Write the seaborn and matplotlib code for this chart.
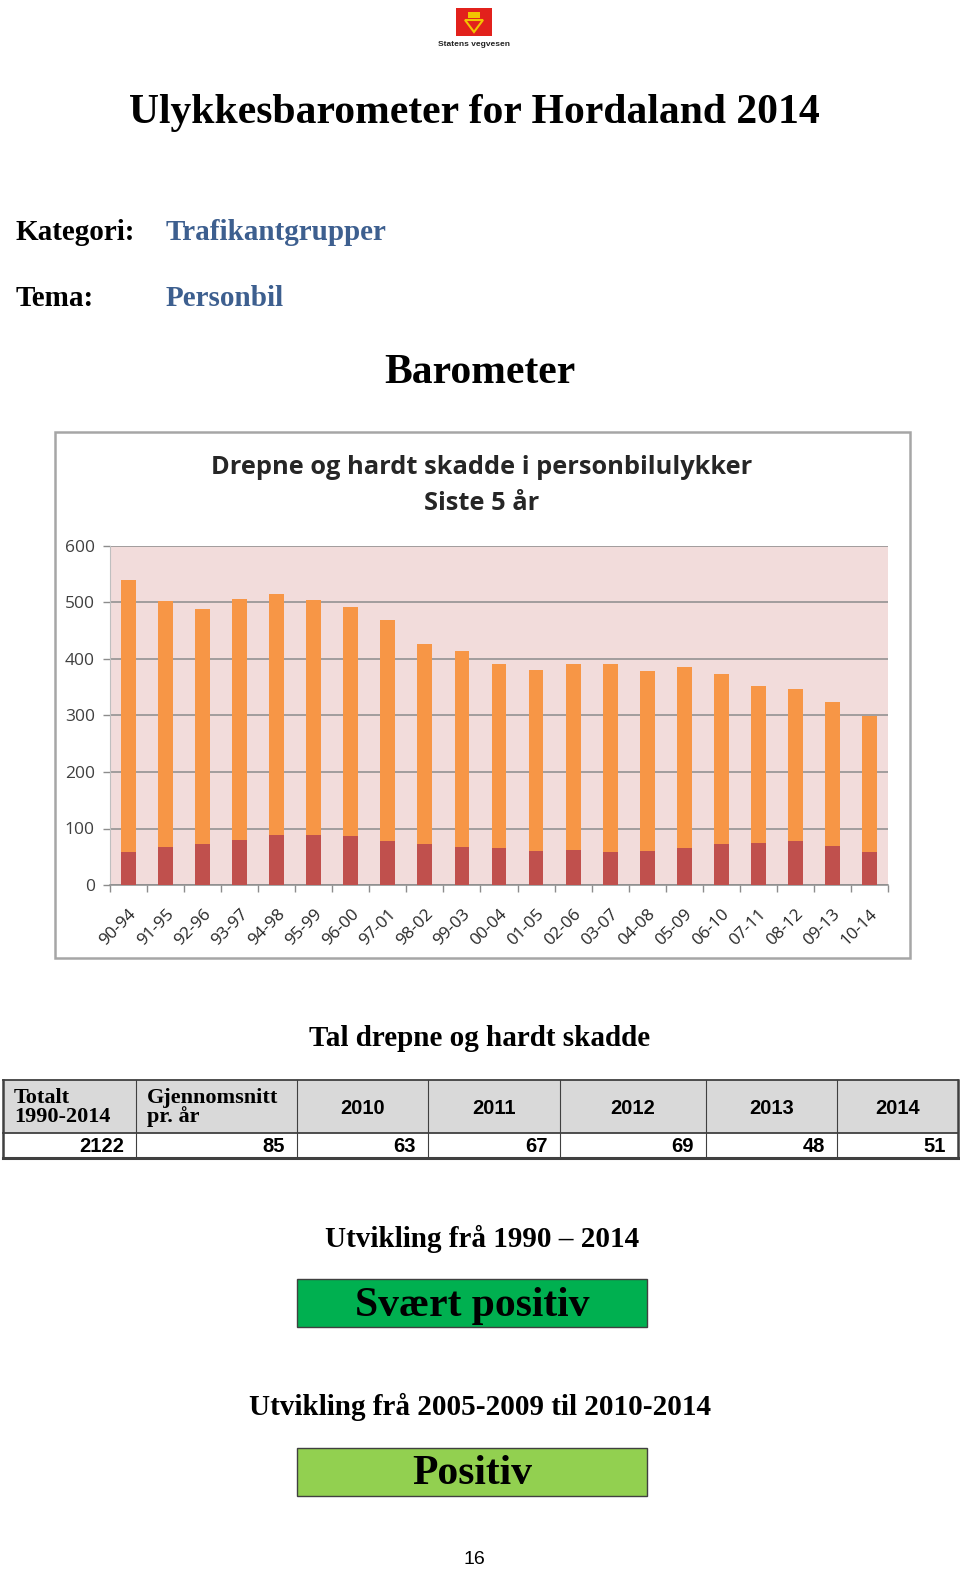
import matplotlib
matplotlib.use("Agg")
import matplotlib.pyplot as plt
from matplotlib.patches import Rectangle, Polygon
import seaborn as sns
import pandas as pd

# ---------------- data ----------------
periods = ['90-94', '91-95', '92-96', '93-97', '94-98', '95-99', '96-00', '97-01',
           '98-02', '99-03', '00-04', '01-05', '02-06', '03-07', '04-08', '05-09',
           '06-10', '07-11', '08-12', '09-13', '10-14']
total_values = [539, 502, 488, 507, 515, 505, 492, 469, 427, 414, 391, 381, 391,
                391, 379, 386, 374, 352, 347, 324, 299]
red_values = [59, 67, 73, 80, 88, 88, 86, 78, 72, 67, 66, 61, 62, 59, 61, 65,
              73, 75, 78, 69, 59]
y_ticks = [0, 100, 200, 300, 400, 500, 600]

table_headers = ['Totalt\n1990-2014', 'Gjennomsnitt\npr. år', '2010', '2011', '2012', '2013', '2014']
table_values = ['2122', '85', '63', '67', '69', '48', '51']

main_title = 'Ulykkesbarometer for Hordaland 2014'
chart_title = 'Drepne og hardt skadde i personbilulykker\nSiste 5 år'
verdict1_label = 'Utvikling frå 1990 – 2014'
verdict1 = 'Svært positiv'
verdict2_label = 'Utvikling frå 2005-2009 til 2010-2014'
verdict2 = 'Positiv'

# ---------------- figure ----------------
W, H = 960, 1570
fig = plt.figure(figsize=(W / 100, H / 100), dpi=100)
fig.patch.set_facecolor('white')

def fx(x):
    return x / W

def fy(y):
    return 1 - y / H

SERIF = 'Liberation Serif'
SANS = 'Liberation Sans'
CAL = 'Open Sans'

def ftext(x, y, s, **kw):
    fig.text(fx(x), fy(y), s, **kw)

# logo
fig.patches.append(Rectangle((fx(456), fy(36)), 36 / W, 28 / H, transform=fig.transFigure,
                             facecolor='#E2211C', edgecolor='none'))
fig.patches.append(Polygon([(fx(465), fy(20)), (fx(483), fy(20)), (fx(474), fy(32))],
                           closed=True, transform=fig.transFigure,
                           facecolor='none', edgecolor='#F2C500', linewidth=1.5))
fig.patches.append(Rectangle((fx(468), fy(18)), 12 / W, 6 / H, transform=fig.transFigure,
                             facecolor='#F2C500', edgecolor='none'))
ftext(474, 45, 'Statens vegvesen', fontsize=6, fontweight='bold', family=SANS,
      ha='center', va='center', color='#222222')

# headings
ftext(474, 113, main_title, fontsize=30, fontweight='bold', family=SERIF,
      ha='center', va='center', color='black')
ftext(16, 232, 'Kategori:', fontsize=21, fontweight='bold', family=SERIF, va='center')
ftext(166, 232, 'Trafikantgrupper', fontsize=21, fontweight='bold', family=SERIF,
      va='center', color='#3D5F8F')
ftext(16, 298, 'Tema:', fontsize=21, fontweight='bold', family=SERIF, va='center')
ftext(166, 298, 'Personbil', fontsize=21, fontweight='bold', family=SERIF,
      va='center', color='#3D5F8F')
ftext(480, 373, 'Barometer', fontsize=30, fontweight='bold', family=SERIF,
      ha='center', va='center')

# chart outer frame
fig.patches.append(Rectangle((fx(55), fy(958)), (910 - 55) / W, (958 - 432) / H,
                             transform=fig.transFigure, facecolor='white',
                             edgecolor='#A6A6A6', linewidth=1.8, zorder=0))
ftext(482, 467, chart_title.split('\n')[0], fontsize=18.3, fontweight='bold', family=CAL,
      ha='center', va='center', color='#262626')
ftext(482, 504, chart_title.split('\n')[1], fontsize=18.3, fontweight='bold', family=CAL,
      ha='center', va='center', color='#262626')

# chart axes
ax = fig.add_axes([fx(110), fy(885), (888 - 110) / W, (885 - 546) / H])
ax.set_zorder(5)
ax.set_facecolor('#F2DCDB')
df = pd.DataFrame({'periode': periods, 'total': total_values, 'red': red_values})
sns.barplot(data=df, x='periode', y='total', color='#F79646', width=0.4,
            saturation=1, ax=ax, zorder=3)
sns.barplot(data=df, x='periode', y='red', color='#C0504D', width=0.4,
            saturation=1, ax=ax, zorder=4)
ax.set_xlim(-0.5, len(periods) - 0.5)
ax.set_ylim(0, 600)
ax.set_yticks(y_ticks)
ax.set_yticklabels([str(v) for v in y_ticks], fontsize=12.5, family=CAL, color='#404040')
ax.yaxis.grid(True, color='#8C8C8C', linewidth=1.1, zorder=1)
ax.set_axisbelow(True)
ax.set_xlabel('')
ax.set_ylabel('')
ax.set_xticks(range(len(periods)))
ax.set_xticklabels(periods, rotation=45, ha='right', rotation_mode='anchor',
                   fontsize=12.3, family=CAL, color='#262626')
ax.tick_params(axis='x', length=0, pad=15)
ax.set_xticks([i - 0.5 for i in range(len(periods) + 1)], minor=True)
ax.tick_params(axis='x', which='minor', length=5, color='#8C8C8C', width=1)
ax.tick_params(axis='y', length=5, color='#8C8C8C', width=1, pad=6)
for s in ['top', 'right']:
    ax.spines[s].set_visible(False)
ax.spines['left'].set_color('#BFBFBF')
ax.spines['bottom'].set_color('#8C8C8C')
ax.spines['bottom'].set_linewidth(1.1)

# table title
ftext(480, 1039, 'Tal drepne og hardt skadde', fontsize=21, fontweight='bold',
      family=SERIF, ha='center', va='center')

# table
col_edges = [3, 136, 297, 428, 560, 706, 837, 958]
t_top, t_mid, t_bot = 1080, 1133, 1158
fig.patches.append(Rectangle((fx(3), fy(t_mid)), (958 - 3) / W, (t_mid - t_top) / H,
                             transform=fig.transFigure, facecolor='#D9D9D9',
                             edgecolor='none'))
for i, (h, v) in enumerate(zip(table_headers, table_values)):
    x0, x1 = col_edges[i], col_edges[i + 1]
    if i < 2:
        ftext(x0 + 11, (t_top + t_mid) / 2 + 1, h, fontsize=16, fontweight='bold',
              family=SERIF, va='center', ha='left', linespacing=0.92)
    else:
        ftext((x0 + x1) / 2, (t_top + t_mid) / 2 + 2, h, fontsize=14.5, fontweight='bold',
              family=SANS, va='center', ha='center')
    ftext(x1 - 12, (t_mid + t_bot) / 2 + 1, v, fontsize=14.5, fontweight='bold',
          family=SANS, va='center', ha='right')
# table lines
line_kw = dict(transform=fig.transFigure, color='#404040')
for y, lw in [(t_top, 1.3), (t_mid, 1.3), (t_bot, 2.2)]:
    fig.add_artist(plt.Line2D([fx(3), fx(958)], [fy(y), fy(y)], linewidth=lw, **line_kw))
for x in col_edges:
    lw = 1.8 if x in (3, 958) else 0.8
    fig.add_artist(plt.Line2D([fx(x), fx(x)], [fy(t_top), fy(t_bot)], linewidth=lw, **line_kw))

# verdicts
ftext(482, 1239, verdict1_label, fontsize=21, fontweight='bold', family=SERIF,
      ha='center', va='center')
fig.patches.append(Rectangle((fx(297), fy(1327)), (647 - 297) / W, (1327 - 1279) / H,
                             transform=fig.transFigure, facecolor='#00B050',
                             edgecolor='#404040', linewidth=1))
ftext(472, 1306, verdict1, fontsize=30, fontweight='bold', family=SERIF,
      ha='center', va='center')

ftext(480, 1407, verdict2_label, fontsize=21, fontweight='bold', family=SERIF,
      ha='center', va='center')
fig.patches.append(Rectangle((fx(297), fy(1496)), (647 - 297) / W, (1496 - 1448) / H,
                             transform=fig.transFigure, facecolor='#92D050',
                             edgecolor='#404040', linewidth=1))
ftext(472, 1474, verdict2, fontsize=30, fontweight='bold', family=SERIF,
      ha='center', va='center')

ftext(474, 1559, '16', fontsize=14, family=SANS, ha='center', va='center')

fig.savefig('out.png', dpi=100, facecolor='white')
